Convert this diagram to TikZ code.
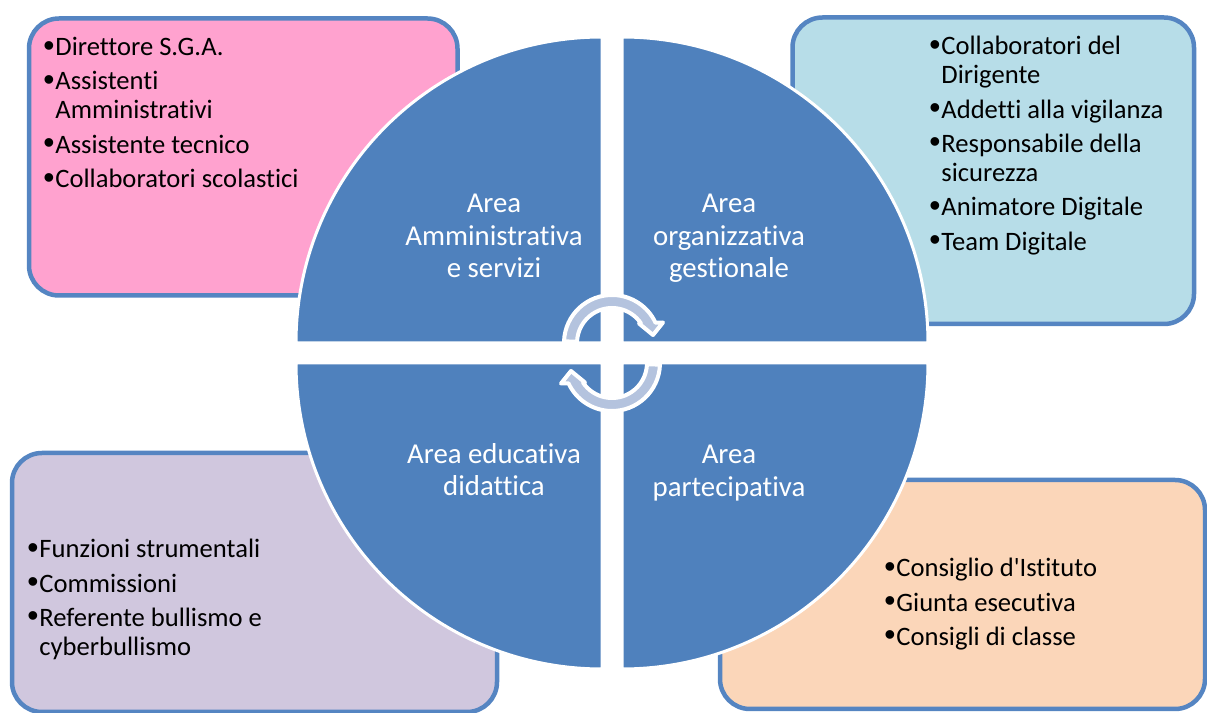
\documentclass[tikz,border=0pt]{standalone}
\usepackage{fontspec}
\setmainfont[Ligatures={TeX,NoCommon}]{Carlito}
\newfontfamily\bulfont{Liberation Sans}
\usetikzlibrary{calc}
\definecolor{quadblue}{HTML}{4F81BD}
\definecolor{boxline}{HTML}{5585C2}
\definecolor{pinkfill}{HTML}{FFA2CF}
\definecolor{cyanfill}{HTML}{B7DDE8}
\definecolor{lilacfill}{HTML}{D0C7DE}
\definecolor{peachfill}{HTML}{FBD6B9}
\definecolor{arrowfill}{HTML}{B4C3DE}
\newcommand\bul{\makebox[6pt][l]{\raisebox{-0.25pt}{\scalebox{1.2}{\bulfont •}}}}
\newcommand\cont{\hspace*{6pt}}
\tikzset{
  cyclearrow/.pic={
    \draw[cyc] (178:48) arc[start angle=178,end angle=25,radius=48]
      -- (51,20.5) -- (41,8) -- (27,19.5)
      -- (34:35) arc[start angle=34,end angle=178,radius=35] -- cycle;
  }
}

\begin{document}
\begin{tikzpicture}[x=0.5pt,y=0.5pt,
    box/.style={draw=boxline,line width=2.25pt,rounded corners=15pt},
    quad/.style={fill=quadblue,draw=white,line width=1.5pt},
    items/.style={anchor=north west,inner sep=0pt,align=left,
      font=\fontsize{13.3}{14.5}\selectfont},
    area/.style={anchor=north,inner sep=0pt,align=center,text=white,
      font=\fontsize{14.4}{16.25}\selectfont},
    cyc/.style={fill=arrowfill,draw=white,line width=2pt,line join=round}]
  \useasboundingbox (0,0) rectangle (1207,713);

  \draw[box,fill=pinkfill]  (29,417.5) rectangle (457.5,694.5);
  \draw[box,fill=cyanfill]  (792.5,389) rectangle (1194,695.5);
  \draw[box,fill=lilacfill] (12,1) rectangle (497,260);
  \draw[box,fill=peachfill] (720,4) rectangle (1205,233);

  \draw[quad] (602,370) -- (296,370) arc[start angle=180,end angle=90,radius=306] -- cycle;
  \draw[quad] (622,370) -- (622,676) arc[start angle=90,end angle=0,radius=306] -- cycle;
  \draw[quad] (622,350) -- (928,350) arc[start angle=0,end angle=-90,radius=306] -- cycle;
  \draw[quad] (602,350) -- (602,44) arc[start angle=-90,end angle=-180,radius=306] -- cycle;

  \node[area] (amm) at (494,519) {Area\\Amministrativa\\e servizi};
  \node[area] (org) at (729,519) {Area\\organizzativa\\gestionale};
  \node[area] (edu) at (494,270) {Area educativa\\didattica};
  \node[area] (par) at (729,268) {Area\\partecipativa};

  \pic at (612,370) {cyclearrow};
  \pic[rotate=180] at (612,350) {cyclearrow};

  \node[items] (ammlist) at (43,676) {\bul Direttore S.G.A.\\[2.65pt]
    \bul Assistenti\\\cont Amministrativi\\[2.65pt]
    \bul Assistente tecnico\\[2.65pt]
    \bul Collaboratori scolastici};
  \node[items] (orglist) at (929,677) {\bul Collaboratori del\\\cont Dirigente\\[2.65pt]
    \bul Addetti alla vigilanza\\[2.65pt]
    \bul Responsabile della\\\cont sicurezza\\[2.65pt]
    \bul Animatore Digitale\\[2.65pt]
    \bul Team Digitale};
  \node[items] (edulist) at (27,174) {\bul Funzioni strumentali\\[2.65pt]
    \bul Commissioni\\[2.65pt]
    \bul Referente bullismo e\\\cont cyberbullismo};
  \node[items] (parlist) at (884,155) {\bul Consiglio d\textquotesingle Istituto\\[2.65pt]
    \bul Giunta esecutiva\\[2.65pt]
    \bul Consigli di classe};
\end{tikzpicture}
\end{document}
